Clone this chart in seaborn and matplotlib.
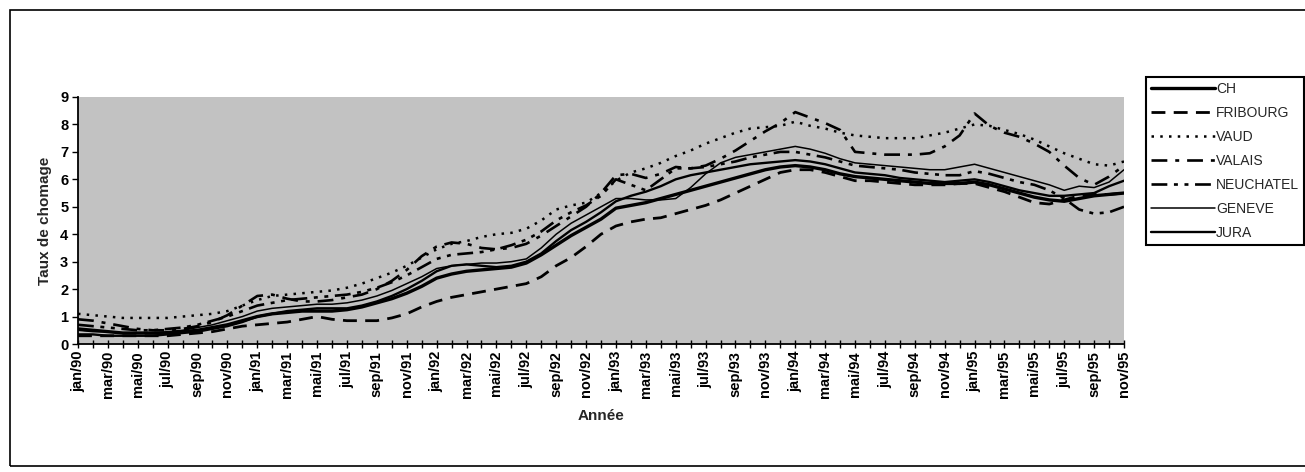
import matplotlib.pyplot as plt
import pandas as pd
import seaborn as sns
from matplotlib.patches import Rectangle

# month labels, jan/90 .. nov/95, one label every two months
mois_noms = ["jan", "mar", "mai", "jul", "sep", "nov"]
annees = ["90", "91", "92", "93", "94", "95"]
tick_labels = [f"{m}/{a}" for a in annees for m in mois_noms]

CH = [0.55, 0.50, 0.45, 0.40, 0.40, 0.40, 0.40, 0.45, 0.50, 0.60, 0.70, 0.85,
      1.00, 1.10, 1.15, 1.20, 1.20, 1.20, 1.25, 1.35, 1.50, 1.65, 1.85, 2.10,
      2.40, 2.55, 2.65, 2.70, 2.75, 2.80, 2.95, 3.25, 3.60, 3.95, 4.25, 4.55,
      4.95, 5.05, 5.15, 5.30, 5.45, 5.60, 5.75, 5.90, 6.05, 6.20, 6.35, 6.45,
      6.50, 6.45, 6.35, 6.20, 6.10, 6.05, 6.00, 5.95, 5.90, 5.85, 5.85, 5.85,
      5.90, 5.80, 5.65, 5.50, 5.35, 5.25, 5.20, 5.30, 5.40, 5.45, 5.50]
FRIBOURG = [0.30, 0.30, 0.30, 0.30, 0.30, 0.30, 0.30, 0.35, 0.40, 0.45, 0.55, 0.65,
            0.70, 0.75, 0.80, 0.90, 1.00, 0.90, 0.85, 0.85, 0.85, 0.95, 1.10, 1.35,
            1.55, 1.70, 1.80, 1.90, 2.00, 2.10, 2.20, 2.45, 2.85, 3.15, 3.55, 4.00,
            4.30, 4.45, 4.55, 4.60, 4.75, 4.90, 5.05, 5.25, 5.50, 5.75, 6.00, 6.25,
            6.35, 6.35, 6.25, 6.10, 5.95, 5.95, 5.90, 5.85, 5.80, 5.80, 5.80, 5.85,
            5.85, 5.70, 5.55, 5.35, 5.15, 5.10, 5.25, 5.40, 5.45, 5.45, 5.50]
VAUD = [1.10, 1.05, 1.00, 0.95, 0.95, 0.95, 0.95, 1.00, 1.05, 1.10, 1.20, 1.40,
        1.60, 1.75, 1.80, 1.85, 1.90, 1.95, 2.05, 2.20, 2.40, 2.60, 2.85, 3.15,
        3.45, 3.65, 3.75, 3.90, 4.00, 4.05, 4.20, 4.50, 4.90, 5.05, 5.15, 5.50,
        5.95, 6.25, 6.40, 6.60, 6.85, 7.05, 7.30, 7.50, 7.70, 7.85, 7.90, 7.95,
        8.10, 7.95, 7.85, 7.70, 7.60, 7.55, 7.50, 7.50, 7.50, 7.60, 7.70, 7.85,
        8.00, 7.95, 7.80, 7.65, 7.45, 7.20, 6.95, 6.75, 6.55, 6.50, 6.65]
VALAIS = [0.90, 0.85, 0.75, 0.65, 0.55, 0.50, 0.50, 0.55, 0.65, 0.80, 1.05, 1.40,
          1.75, 1.80, 1.65, 1.55, 1.55, 1.60, 1.70, 1.80, 2.00, 2.30, 2.70, 3.20,
          3.55, 3.70, 3.65, 3.50, 3.45, 3.50, 3.65, 3.95, 4.30, 4.65, 5.00, 5.50,
          6.15, 6.20, 6.05, 6.20, 6.45, 6.40, 6.50, 6.75, 7.05, 7.40, 7.75, 8.05,
          8.45, 8.25, 8.05, 7.80, 7.00, 6.95, 6.90, 6.90, 6.90, 6.95, 7.20, 7.60,
          8.40, 7.95, 7.70, 7.55, 7.30, 7.00, 6.50, 6.05, 5.80, 6.10, 6.50]
NEUCHATEL = [0.70, 0.65, 0.60, 0.55, 0.50, 0.50, 0.55, 0.60, 0.70, 0.85, 1.00, 1.20,
             1.40, 1.50, 1.60, 1.65, 1.70, 1.75, 1.80, 1.90, 2.05, 2.25, 2.50, 2.80,
             3.10, 3.25, 3.30, 3.35, 3.45, 3.60, 3.80, 4.10, 4.50, 4.80, 5.05, 5.40,
             6.00, 5.80, 5.60, 6.00, 6.40, 6.40, 6.45, 6.55, 6.65, 6.80, 6.90, 7.00,
             7.00, 6.90, 6.80, 6.65, 6.50, 6.45, 6.40, 6.35, 6.25, 6.20, 6.15, 6.15,
             6.30, 6.20, 6.05, 5.90, 5.80, 5.60, 5.30, 4.90, 4.75, 4.80, 5.00]
GENEVE = [0.50, 0.45, 0.45, 0.40, 0.40, 0.40, 0.45, 0.50, 0.60, 0.70, 0.85, 1.00,
          1.20, 1.30, 1.35, 1.40, 1.45, 1.45, 1.50, 1.60, 1.75, 1.95, 2.20, 2.45,
          2.75, 2.85, 2.90, 2.95, 2.95, 3.00, 3.10, 3.50, 4.00, 4.40, 4.70, 5.00,
          5.30, 5.30, 5.25, 5.25, 5.30, 5.70, 6.20, 6.60, 6.80, 6.90, 7.00, 7.10,
          7.20, 7.10, 6.95, 6.75, 6.60, 6.55, 6.50, 6.45, 6.40, 6.35, 6.35, 6.45,
          6.55, 6.40, 6.25, 6.10, 5.95, 5.80, 5.60, 5.75, 5.70, 5.90, 6.35]
JURA = [0.35, 0.35, 0.30, 0.30, 0.30, 0.30, 0.35, 0.40, 0.45, 0.55, 0.65, 0.80,
        1.00, 1.10, 1.20, 1.25, 1.30, 1.30, 1.30, 1.40, 1.55, 1.75, 2.00, 2.30,
        2.65, 2.85, 2.90, 2.85, 2.80, 2.85, 3.00, 3.30, 3.75, 4.15, 4.45, 4.80,
        5.20, 5.40, 5.55, 5.75, 6.00, 6.15, 6.25, 6.35, 6.45, 6.55, 6.60, 6.65,
        6.70, 6.65, 6.55, 6.40, 6.25, 6.20, 6.15, 6.05, 6.00, 5.95, 5.90, 5.95,
        6.00, 5.90, 5.75, 5.60, 5.50, 5.40, 5.40, 5.45, 5.50, 5.75, 5.95]

series = {"CH": CH, "FRIBOURG": FRIBOURG, "VAUD": VAUD, "VALAIS": VALAIS,
          "NEUCHATEL": NEUCHATEL, "GENEVE": GENEVE, "JURA": JURA}

# line look for each canton (all black, like the printed original)
styles = {
    "CH": dict(lw=2.4, ls="-"),
    "FRIBOURG": dict(lw=2.0, ls=(0, (5, 3))),
    "VAUD": dict(lw=1.8, ls=(0, (1, 2.5))),
    "VALAIS": dict(lw=1.9, ls=(0, (6, 3, 1.5, 3))),
    "NEUCHATEL": dict(lw=1.9, ls=(0, (6, 2.5, 1.5, 2.5, 1.5, 2.5))),
    "GENEVE": dict(lw=1.1, ls="-"),
    "JURA": dict(lw=1.7, ls="-"),
}

df = pd.DataFrame(series)
df["mois"] = range(len(CH))
df = df.melt(id_vars="mois", var_name="canton", value_name="taux")

sns.set_theme(style="ticks")
plt.rcParams["font.family"] = ["Liberation Sans", "DejaVu Sans"]

fig = plt.figure(figsize=(13.05, 4.72), dpi=100)
ax = fig.add_axes([78 / 1305, 1 - 344 / 472, (1124 - 78) / 1305, (344 - 97) / 472])
ax.set_facecolor("#c2c2c2")

for name, st in styles.items():
    sns.lineplot(data=df[df["canton"] == name], x="mois", y="taux", ax=ax,
                 color="black", linewidth=st["lw"], linestyle=st["ls"], label=name)

ax.set_xlim(0, 70)
ax.set_ylim(0, 9)
ax.set_xticks(range(0, 71))
ax.set_xticklabels([tick_labels[i // 2] if i % 2 == 0 else "" for i in range(71)],
                   rotation=90, fontsize=10.5, fontweight="bold")
ax.set_yticks(range(0, 10))
ax.set_yticklabels([str(v) for v in range(0, 10)], fontsize=10.5, fontweight="bold")
ax.tick_params(axis="x", direction="inout", length=6, width=1, pad=2, colors="black")
ax.tick_params(axis="y", direction="out", length=4, width=1, pad=3, colors="black")
for s in ["top", "right"]:
    ax.spines[s].set_visible(False)
for s in ["left", "bottom"]:
    ax.spines[s].set_color("black")
    ax.spines[s].set_linewidth(1.3)

ax.set_xlabel("Année", fontsize=11, fontweight="bold", labelpad=8)
ax.set_ylabel("Taux de chomage", fontsize=11, fontweight="bold", labelpad=6)

leg = ax.legend(loc="upper left", bbox_to_anchor=(1146 / 1305, 1 - 77 / 472),
                bbox_transform=fig.transFigure, frameon=True, fancybox=False,
                edgecolor="black", facecolor="white", framealpha=1,
                fontsize=10, handlelength=4.6, handletextpad=0.1,
                labelspacing=0.72, borderpad=0.35, borderaxespad=0)
leg.get_frame().set_linewidth(1.5)

# outer frame of the scanned figure
fig.patches.append(Rectangle((10 / 1305, 6 / 472), 1.2, 1 - 16 / 472,
                             transform=fig.transFigure, fill=False,
                             edgecolor="black", linewidth=1.2))

fig.savefig("out.png", dpi=100)
